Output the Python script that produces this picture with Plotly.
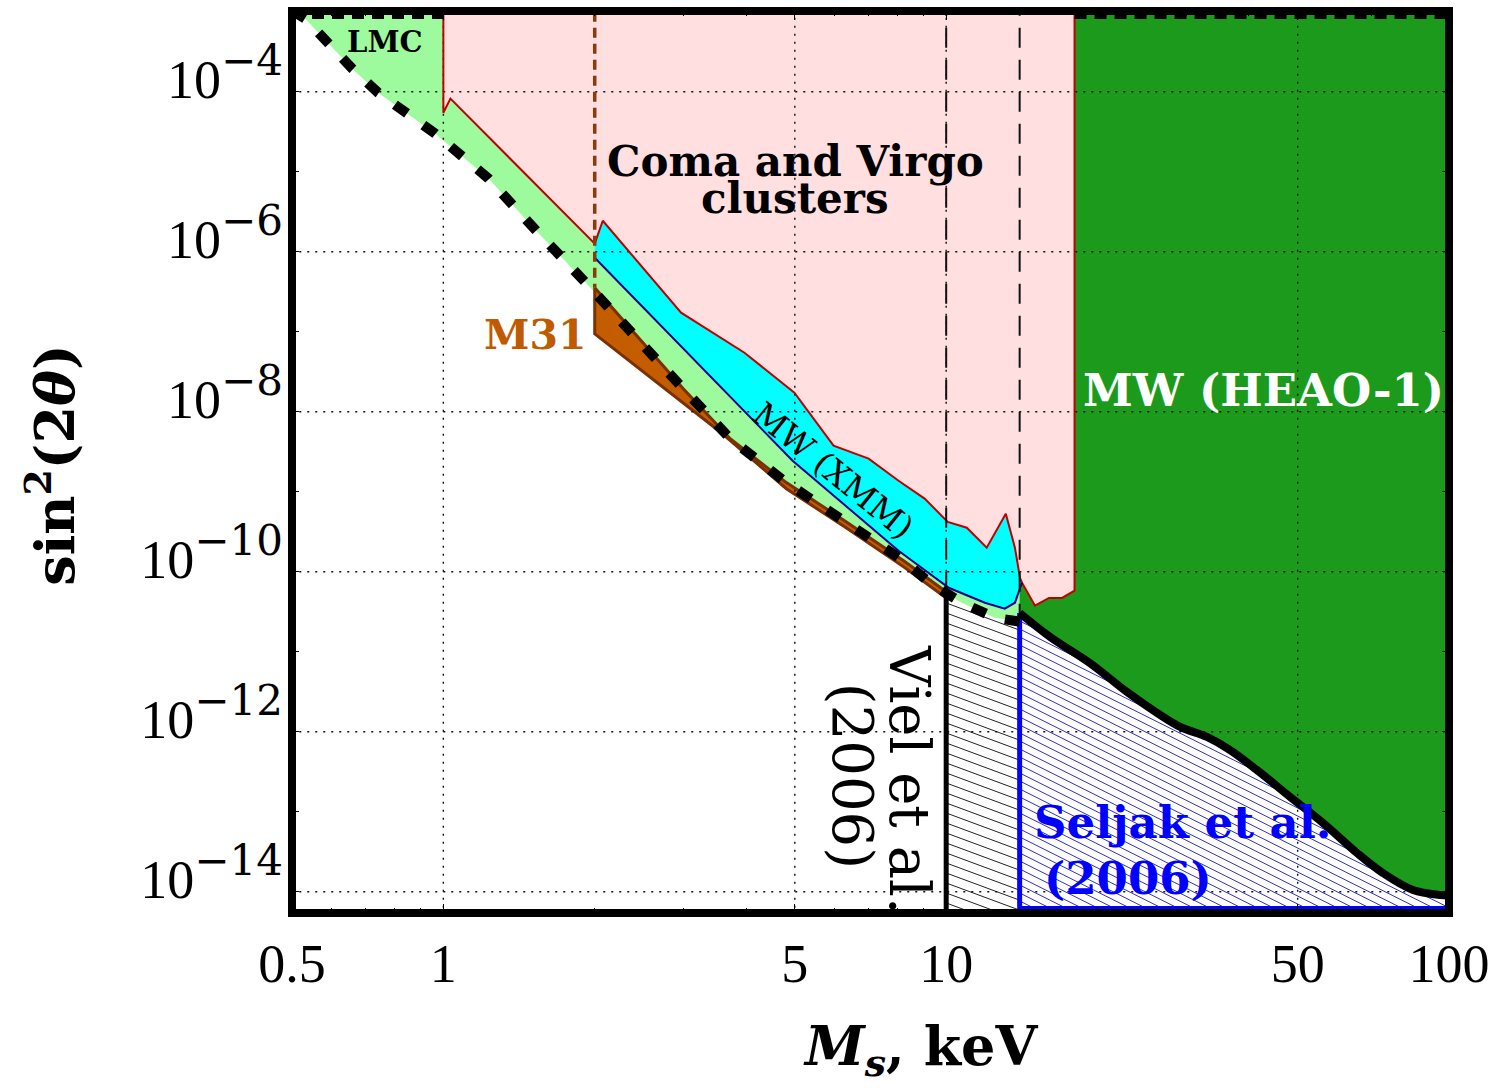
import numpy as np
import plotly.graph_objects as go

# ---------------- data (M_s in keV, sin^2(2theta)) ----------------
X_TICKS = [0.5, 1, 5, 10, 50, 100]
X_TICKTEXT = ["0.5", "1", "5", "10", "50", "100"]
X_MINOR = [0.6, 0.7, 0.8, 0.9, 2, 3, 4, 6, 7, 8, 9, 20, 30, 40, 60, 70, 80, 90]
X_GRID = [1, 5, 10, 50]
Y_EXP_LABELED = [-4, -6, -8, -10, -12, -14]
Y_EXP_MINOR = [-3, -5, -7, -9, -11, -13]

# lower bound from abundance (thick dashed black line)
LOW_X = [0.5, 0.531, 0.659, 0.742, 0.964, 1.23, 1.53, 1.92, 3.00, 3.72, 4.81, 6.28, 8.23, 9.27, 10.74, 12.50, 14.02]
LOW_Y = [1.03e-3, 8.2e-4, 1.94e-4, 9.7e-5, 2.99e-5, 8.2e-6, 1.83e-6, 4.1e-7, 1.94e-8, 4.6e-9, 1.30e-9, 4.34e-10,
         1.37e-10, 7.3e-11, 4.1e-11, 2.66e-11, 2.37e-11]

# Coma and Virgo clusters excluded region (boundary, left -> right)
PINK_X = [1.0, 1.0, 1.033, 2.0, 2.075, 2.97, 3.97, 4.99, 5.97, 7.01, 8.04, 9.06, 10.07, 10.99, 12.04, 13.14,
          13.70, 14.02, 14.15, 15.02, 16.01, 17.0, 18.0, 18.0]
PINK_Y = [1e-2, 5.46e-5, 8.2e-5, 1.26e-6, 2.44e-6, 1.73e-7, 5.46e-8, 1.73e-8, 3.76e-9, 2.59e-9, 1.37e-9, 8.2e-10,
          4.2e-10, 3.55e-10, 2.0e-10, 5.3e-10, 2.0e-10, 8.4e-11, 7.3e-11, 3.76e-11, 4.7e-11, 4.7e-11, 5.8e-11, 1e-2]

# MW (XMM) region: upper edge = part of PINK, lower edge below
XMM_TOP_X = [2.0, 2.075, 2.97, 3.97, 4.99, 5.97, 7.01, 8.04, 9.06, 10.07, 10.99, 12.04, 13.14, 13.70, 14.02, 14.15]
XMM_TOP_Y = [1.26e-6, 2.44e-6, 1.73e-7, 5.46e-8, 1.73e-8, 3.76e-9, 2.59e-9, 1.37e-9, 8.2e-10, 4.2e-10, 3.55e-10,
             2.0e-10, 5.3e-10, 2.0e-10, 8.4e-11, 7.3e-11]
XMM_LOW_X = [2.0, 4.95, 8.04, 10.12, 11.94, 13.08, 13.70, 14.02, 14.15]
XMM_LOW_Y = [8.4e-7, 2.44e-9, 1.83e-10, 6.3e-11, 4.1e-11, 3.45e-11, 4.1e-11, 6.3e-11, 7.3e-11]

# M31 region
M31_UP_X = [2.0, 3.0, 3.72, 4.81, 6.28, 8.23, 10.0]
M31_UP_Y = [3.55e-7, 1.94e-8, 4.6e-9, 1.30e-9, 4.34e-10, 1.37e-10, 5.6e-11]
M31_LOW_X = [2.0, 3.57, 4.81, 6.28, 8.23, 10.0]
M31_LOW_Y = [9.4e-8, 5.46e-9, 1.09e-9, 3.65e-10, 1.15e-10, 4.7e-11]

# MW (HEAO-1) / Seljak et al. boundary (thick black curve)
CURVE_X = [14.0, 16.1, 19.33, 22.9, 26.3, 29.2, 33.0, 36.7, 41.5, 48.3, 56.2, 65.6, 73.9, 84.8, 96.0, 100.0]
CURVE_Y = [3.05e-11, 1.53e-11, 7.2e-12, 3.13e-12, 1.71e-12, 1.15e-12, 8.6e-13, 5.9e-13, 3.32e-13, 1.53e-13,
           7.2e-14, 3.05e-14, 1.71e-14, 1.05e-14, 9.1e-15, 9.0e-15]

LMC_X = [0.5, 1.0]
HEAO_X = [18.0, 100.0]
VIEL_M = 10.0     # keV
SELJAK_M = 14.0   # keV
M31_LEFT = 2.0

TOP = 1e-2
BOTTOM = 1e-15
X_RANGE = [np.log10(0.5), 2.0]
Y_RANGE = [-14.266, -2.991]

# ---------------- helpers ----------------
PXD, PYD = 503.0, 80.0   # pixels per decade (x, y) for hatch angle


def interp_log(x, xs, ys):
    return 10 ** np.interp(np.log10(x), np.log10(xs), np.log10(ys))


def hatch(x0, x1, top_x, top_y, floor, slope, step):
    u = np.linspace(np.log10(x0), np.log10(x1), 800) * PXD
    vt = -np.interp(u, np.log10(top_x) * PXD, np.log10(top_y)) * PYD
    vb = -np.log10(floor) * PYD
    cs = np.arange((vt - slope * u).min() - step, (vb - slope * u).max() + step, step)
    xs, ys = [], []
    for c in cs:
        v = c + slope * u
        m = (v >= vt) & (v <= vb)
        edges = np.flatnonzero(np.diff(np.concatenate([[0], m.astype(int), [0]])))
        for a, b in zip(edges[::2], edges[1::2]):
            ua, ub = u[a], u[b - 1]
            xs += [10 ** (ua / PXD), 10 ** (ub / PXD), None]
            ys += [10 ** (-(c + slope * ua) / PYD), 10 ** (-(c + slope * ub) / PYD), None]
    return xs, ys


fig = go.Figure()


def poly(x, y, fill, line_color=None, width=0):
    fig.add_trace(go.Scatter(x=x, y=y, mode="lines", fill="toself", fillcolor=fill,
                             line=dict(color=line_color or fill, width=width), hoverinfo="skip",
                             showlegend=False))


def line(x, y, color, width, dash="solid", shape="linear"):
    fig.add_trace(go.Scatter(x=x, y=y, mode="lines", line=dict(color=color, width=width, dash=dash, shape=shape),
                             hoverinfo="skip", showlegend=False))


# light green (LMC + band above lower bound)
poly(LOW_X + [LOW_X[-1], LOW_X[0]], LOW_Y + [TOP, TOP], "#9dfb9d")
# dark green MW (HEAO-1)
poly([CURVE_X[0], CURVE_X[-1]] + CURVE_X[::-1], [TOP, TOP] + CURVE_Y[::-1], "#1b9a1b")
# pink Coma & Virgo
poly(PINK_X, PINK_Y, "#ffdfdf")
# cyan MW (XMM)
poly(XMM_TOP_X + XMM_LOW_X[::-1], XMM_TOP_Y + XMM_LOW_Y[::-1], "#00ffff")
# M31
poly(M31_UP_X + M31_LOW_X[::-1] + [M31_UP_X[0]], M31_UP_Y + M31_LOW_Y[::-1] + [M31_UP_Y[0]],
     "#c45c00", "#7a3000", 3)

# hatching
floor = 10 ** (Y_RANGE[0] - 0.05)
viel_top = interp_log(VIEL_M, LOW_X, LOW_Y)
hx, hy = hatch(VIEL_M, SELJAK_M, LOW_X, LOW_Y, floor, 0.37, 10.0)
line(hx, hy, "#222222", 1)
hx, hy = hatch(SELJAK_M, 100.0, CURVE_X, CURVE_Y, floor, 0.5, 8.0)
line(hx, hy, "#2a2aff", 1)

# grid (dotted, drawn above fills)
for xv in X_GRID:
    line([xv, xv], [BOTTOM, TOP], "#111111", 1.4, dash="2px,6px")
for e in Y_EXP_LABELED:
    line([0.4, 120], [10.0 ** e, 10.0 ** e], "#111111", 1.4, dash="2px,6px")

# region outlines
line(PINK_X, PINK_Y, "#c00000", 2)
line(XMM_LOW_X, XMM_LOW_Y, "#00008b", 2)

# vertical dashed limits
line([M31_LEFT, M31_LEFT], [TOP, M31_UP_Y[0]], "#8b3a0a", 3.5, dash="10px,6px")
line([VIEL_M, VIEL_M], [TOP, viel_top], "#111111", 2, dash="20px,12px")
line([SELJAK_M, SELJAK_M], [TOP, CURVE_Y[0]], "#111111", 2, dash="20px,12px")

# Viel & Seljak solid limits
line([VIEL_M, VIEL_M], [BOTTOM, viel_top], "#000000", 5)
line([SELJAK_M, SELJAK_M], [BOTTOM, CURVE_Y[0]], "#0000ff", 5)
line([SELJAK_M, 100.0], [10 ** (Y_RANGE[0] + 0.07)] * 2, "#0000ff", 3)

# thick black curve
line(CURVE_X, CURVE_Y, "#000000", 8, shape="spline")
# thick dashed lower bound
line(LOW_X, LOW_Y, "#000000", 10, dash="15px,20px")
# dashed top edge of LMC and HEAO regions
ytop = 10 ** (Y_RANGE[1] - 0.075)
line(LMC_X, [ytop, ytop], "#000000", 4, dash="12px,8px")
line(HEAO_X, [ytop, ytop], "#000000", 4, dash="12px,8px")

# ---------------- layout ----------------
TICKFONT = dict(family="Liberation Serif", size=54, color="black")
y_ticktext = ["10<sup><span style='font-family:DejaVu Serif;font-size:42px'>\u2212%d</span></sup>" % (-e)
              for e in Y_EXP_LABELED]

fig.update_layout(
    width=1488, height=1090,
    margin=dict(l=292, r=39, t=11, b=177, autoexpand=False),
    paper_bgcolor="white", plot_bgcolor="white",
    xaxis=dict(type="log", range=X_RANGE, tickmode="array", tickvals=X_TICKS, ticktext=X_TICKTEXT,
               ticks="inside", ticklen=9, tickwidth=1.2, tickcolor="black", mirror="ticks",
               showgrid=False, showline=False, zeroline=False, tickfont=TICKFONT, layer="above traces",
               ticklabelstandoff=14, automargin=False, ticklabeloverflow="allow",
               minor=dict(tickmode="array", tickvals=X_MINOR, ticks="inside", ticklen=5, tickwidth=1,
                          tickcolor="black", showgrid=False)),
    yaxis=dict(type="log", range=Y_RANGE, tickmode="array", tickvals=[10.0 ** e for e in Y_EXP_LABELED],
               ticktext=y_ticktext, ticks="inside", ticklen=7, tickwidth=1.2, tickcolor="black",
               mirror="ticks", showgrid=False, showline=False, zeroline=False, tickfont=TICKFONT,
               layer="above traces", ticklabelstandoff=8, ticklabelshift=-13, automargin=False,
               ticklabeloverflow="allow",
               minor=dict(tickmode="array", tickvals=[10.0 ** e for e in Y_EXP_MINOR], ticks="inside",
                          ticklen=7, tickwidth=1, tickcolor="black", showgrid=False)),
    shapes=[dict(type="rect", xref="paper", yref="paper", x0=0, x1=1, y0=0, y1=1,
                 line=dict(color="black", width=8), layer="above")],
)

SERIF = "DejaVu Serif"


def note(text, x, y, size, color="black", angle=0, ref="data"):
    if ref == "data":
        fig.add_annotation(x=np.log10(x), y=np.log10(y), xref="x", yref="y", text=text, showarrow=False,
                           xanchor="center", yanchor="middle",
                           font=dict(family=SERIF, size=size, color=color), textangle=angle)
    else:
        fig.add_annotation(x=x, y=y, xref="paper", yref="paper", text=text, showarrow=False,
                           xanchor="center", yanchor="middle",
                           font=dict(family=SERIF, size=size, color=color), textangle=angle)


note("<b>LMC</b>", 0.767, 10 ** -3.38, 29)
note("<b>Coma and Virgo</b>", 5.01, 10 ** -4.87, 42)
note("<b>clusters</b>", 5.01, 10 ** -5.34, 42)
note("<b>M31</b>", 1.52, 10 ** -7.04, 41, color="#c05a00")
note("MW (XMM)", 10 ** 0.7753, 10 ** -8.73, 33, angle=39)
note("<b>MW (HEAO-1)</b>", 10 ** 1.6302, 10 ** -7.73, 45, color="white")
note("Viel et al.", 10 ** 0.9275, 10 ** -12.6, 56, angle=90)
note("(2006)", 10 ** 0.8125, 10 ** -12.55, 56, angle=90)
note("<b>Seljak et al.</b>", 10 ** 1.4712, 10 ** -13.13, 45, color="#0000ff")
note("<b>(2006)</b>", 10 ** 1.3618, 10 ** -13.83, 45, color="#0000ff")

note("<b>sin<sup>2</sup>(2<i>\u03b8</i>)</b>", -0.2075, 0.497, 54, angle=-90, ref="paper")
note("<b><i>M<sub>s</sub></i>, keV</b>", 0.5428, -0.151, 54, ref="paper")

fig.write_html("out.html")
